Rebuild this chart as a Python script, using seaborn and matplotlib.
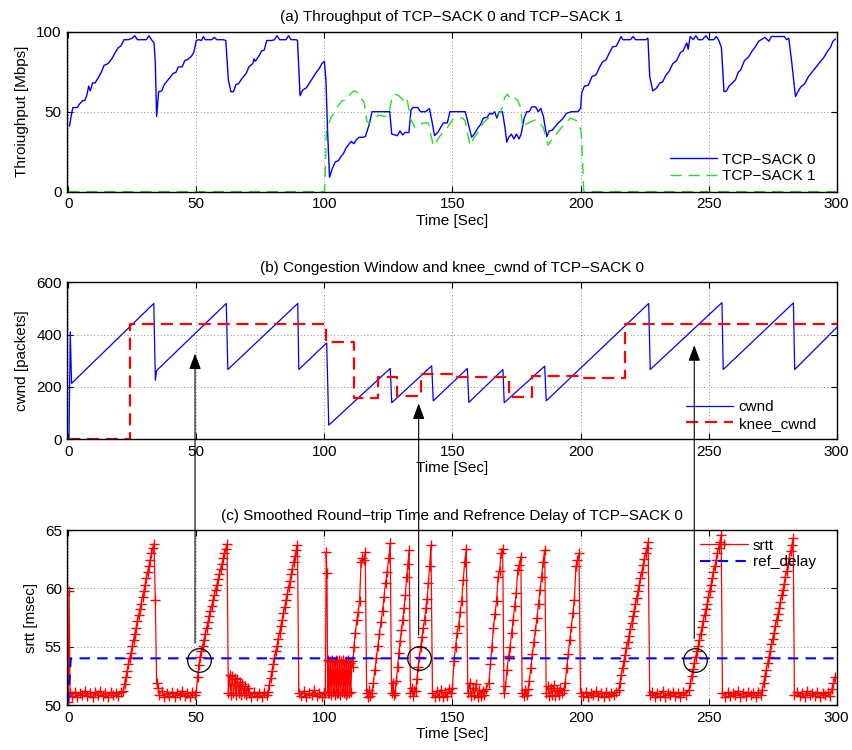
import numpy as np
import matplotlib
matplotlib.use("Agg")
import matplotlib.pyplot as plt
import seaborn as sns
from matplotlib.patches import ConnectionPatch

# ---------------- Panel (a): throughput [Mbps] ----------------
tput0_t = [0.5, 1.0, 1.8, 3.5, 4.5, 5.7, 6.5, 7.2, 8.0, 8.6, 9.5, 10.5, 12.0, 13.0, 14.0, 15.5, 17.0, 18.0,
           19.5, 20.5, 21.8, 23.5, 25.0, 26.0, 27.0, 29.5, 30.5, 31.5, 32.5, 33.5, 34.0, 34.5, 35.3, 36.5,
           37.5, 39.5, 41.0, 42.0, 43.0, 44.5, 45.5, 46.5, 48.0, 49.0, 50.0, 51.0, 52.0, 52.8, 53.5, 56.0,
           57.0, 58.0, 60.5, 61.5, 62.5, 63.5, 64.5, 65.5, 66.5, 67.5, 69.5, 70.5, 72.0, 72.5, 73.0, 74.5,
           75.5, 76.5, 77.5, 79.5, 80.5, 81.5, 82.5, 84.0, 85.0, 86.0, 87.0, 89.0, 89.5, 90.5, 91.5, 93.0,
           95.0, 97.0, 98.0, 99.0, 100.0, 100.6, 101.2, 102.0, 103.0, 104.2, 105.5, 106.5, 107.5, 108.5,
           109.5, 110.5, 111.5, 112.5, 113.5, 115.0, 116.0, 117.5, 118.6, 119.5, 125.5, 126.3, 127.5, 128.5,
           129.5, 130.5, 131.5, 133.0, 133.8, 134.5, 136.5, 137.5, 139.5, 141.0, 142.0, 143.0, 144.5, 145.5,
           146.5, 148.0, 149.0, 155.0, 157.5, 158.5, 160.0, 161.0, 162.0, 163.5, 164.5, 165.5, 166.5, 167.3,
           168.3, 169.5, 170.5, 171.2, 172.0, 173.0, 174.0, 175.0, 176.0, 176.8, 178.0, 179.0, 180.0, 181.0,
           182.5, 183.5, 184.5, 185.5, 186.8, 187.8, 189.0, 191.0, 193.0, 194.5, 196.5, 199.0, 200.0, 200.5,
           201.5, 203.0, 204.5, 206.0, 207.5, 208.5, 210.0, 211.0, 212.5, 214.0, 215.8, 216.5, 219.5, 220.5,
           221.5, 225.5, 226.3, 227.0, 228.2, 229.5, 231.0, 232.0, 233.4, 234.5, 236.0, 237.5, 239.0, 240.0,
           241.5, 242.0, 242.8, 244.0, 245.0, 246.0, 247.5, 249.0, 250.0, 252.0, 253.0, 254.0, 255.0, 256.0,
           257.0, 258.0, 259.3, 260.5, 261.5, 262.5, 264.0, 265.5, 267.0, 268.0, 269.5, 271.0, 272.0, 273.5,
           274.5, 276.0, 279.5, 280.5, 281.3, 282.5, 283.9, 285.0, 286.0, 287.5, 289.0, 290.5, 292.0, 293.5,
           295.0, 296.5, 297.5, 298.5, 299.5]
tput0_v = [41, 46, 52.6, 52.6, 55, 57, 57, 60, 66, 63, 68, 68, 72, 75, 79, 80, 83, 86,
           90, 91, 95, 95, 96, 97.5, 95, 95, 95, 97.5, 95, 93, 80, 47, 62.5, 63,
           67, 71, 74, 74.5, 78, 78, 82, 82.5, 84.5, 87, 94.5, 95, 94.5, 97, 95, 95,
           96.5, 95, 95, 94.5, 70, 62.5, 62.5, 67, 67.5, 70, 74, 78, 80, 83, 81.5, 85,
           88, 88.5, 94.5, 94.5, 95, 97.5, 95, 95, 95, 97.5, 95, 95, 94.5, 60, 63.5, 65,
           70, 75, 77, 80, 81.5, 70, 40, 9, 14, 18.5, 19.5, 22, 24, 27.5,
           29.5, 31.5, 30, 32.5, 34, 34, 34.5, 42, 50, 50, 50, 36, 35.5, 35,
           38, 35.5, 37, 37, 51, 52.6, 52.6, 50, 50, 52, 44, 35, 37.5, 40.5,
           43, 43, 50, 50, 34, 36, 40, 42, 46, 46.5, 49, 48.5, 50, 46,
           50, 50, 40, 31, 34, 36, 33, 36, 33, 36, 46, 50, 50, 53,
           53, 50, 52, 47, 34.5, 38, 38.5, 42.5, 45.5, 49, 50, 50, 52, 62,
           66, 66.5, 72, 73, 78, 81, 82.5, 86, 90.5, 91, 97, 95, 95, 97,
           95, 95, 96, 72, 63, 64.5, 68, 68.5, 73, 75, 80, 82, 87, 88,
           93, 89, 97, 95, 97.5, 95, 95, 97.5, 95, 95, 97, 94.5, 90, 62.5,
           63, 66, 68, 70, 74.5, 76, 82, 84, 88, 90, 94, 95.5, 96.5, 94,
           97, 97, 97, 95, 96, 80, 59.5, 63, 65.5, 67.5, 72, 75, 78, 81,
           84, 88, 90, 94, 95.5]

tput1_t = [0.0, 100.0, 100.3, 100.8, 102.5, 104.0, 105.0, 107.0, 108.5, 110.0, 111.5, 113.0, 114.5,
           115.5, 116.6, 117.5, 119.9, 121.0, 123.5, 125.1, 126.4, 127.5, 129.0, 131.0, 132.2, 133.5,
           135.4, 137.0, 139.0, 140.6, 142.5, 144.0, 146.5, 148.0, 150.2, 152.0, 154.0, 155.0, 156.8,
           158.5, 160.0, 162.0, 164.0, 167.3, 169.0, 170.4, 171.5, 172.5, 174.0, 175.5, 176.5, 177.5,
           178.5, 181.0, 182.5, 184.0, 185.5, 187.3, 189.0, 191.0, 193.0, 196.0, 197.5, 199.0, 200.2,
           200.8, 201.2, 201.5, 300.0]
tput1_v = [0, 0, 9, 38, 46, 50, 53, 57, 57, 61, 63, 62, 58,
           56, 44, 43, 45.5, 48, 47, 48, 59, 61, 60, 57, 59, 46,
           40, 42, 43, 43, 28.6, 32, 38, 40, 45.5, 46, 46, 44, 29,
           34, 37, 43, 46, 48, 50, 59, 61, 58, 59, 57, 53, 40,
           42, 44, 45, 43, 40, 29, 33, 37, 41, 46, 45, 44, 38,
           20, 1, 0, 0]

# ---------------- Panel (b): cwnd [packets] ----------------
cwnd_t = [0.0, 0.3, 0.8, 1.3, 33.4, 34.0, 34.5, 61.7, 62.3, 89.6, 90.0, 100.9, 101.7, 125.7, 126.3,
          141.9, 142.5, 155.8, 156.4, 169.7, 170.2, 186.0, 186.6, 226.6, 227.2, 255.2, 255.7, 283.1,
          283.6, 300.0]
cwnd_v = [0, 0, 410, 213, 519, 225, 262, 519, 266, 519, 266, 368, 53, 270, 139,
          280, 146, 270, 140, 266, 139, 279, 146, 519, 266, 522, 266, 521,
          266, 427]
knee_t = [0, 24, 100.6, 111.7, 120.8, 128.3, 137.6, 150.6, 172.0, 181.2, 200.0, 217.2, 300]
knee_v = [0, 442, 372, 156, 236, 164, 247, 238, 162, 241, 233, 442, 442]

# ---------------- Panel (c): srtt [msec] ----------------
# each segment: (start time, sample step, sampled srtt values)
srtt_segments = [
    (0.0, 0.35, [50.3, 59.8, 51.0]),
    (1.5, 1.0, [50.8, 51.1, 50.7, 51.0, 50.9, 51.2, 50.8, 51.0, 50.7, 51.1, 50.9, 51.2, 50.8, 51.0,
                50.7, 51.1, 50.9, 51.0, 50.8, 51.1]),
    (21.5, 0.5, [51.2, 51.8, 52.4, 52.9, 53.5, 54.0, 54.5, 55.1, 55.6, 56.1, 56.6, 57.2, 57.7, 58.2,
                 58.7, 59.3, 59.8, 60.3, 60.9, 61.4, 61.9, 62.4, 63.0, 63.5, 63.8]),
    (34.0, 0.5, [59.0, 51.9, 51.5]),
    (35.5, 1.0, [50.9, 51.2, 50.7, 51.0, 50.8, 51.1, 50.7, 51.0, 50.9, 51.2, 50.8, 51.0, 50.7, 51.1,
                 50.9]),
    (50.0, 0.5, [51.1, 52.4, 53.4, 54.1, 54.6, 55.1, 55.6, 56.1, 56.6, 57.1, 57.6, 58.1, 58.5, 59.0,
                 59.4, 59.9, 60.3, 60.8, 61.2, 61.7, 62.1, 62.6, 63.0, 63.4, 63.8]),
    (62.5, 0.5, [51.0, 52.6, 50.9, 52.5, 51.0, 52.3, 50.9, 52.2, 51.0, 52.0, 50.9, 51.8, 51.0, 51.6,
                 50.9, 51.5]),
    (70.5, 1.0, [51.0, 50.7, 51.1, 50.8, 51.0, 50.7, 51.1, 50.9]),
    (78.0, 0.5, [51.1, 51.7, 52.3, 52.9, 53.5, 54.0, 54.6, 55.1, 55.7, 56.2, 56.8, 57.3, 57.9, 58.4,
                 59.0, 59.5, 60.1, 60.6, 61.2, 61.7, 62.3, 62.8, 63.3, 63.7]),
    (90.0, 1.0, [51.0, 50.8, 51.2, 50.7, 51.0, 50.9, 51.3, 50.8, 51.0, 50.7, 51.1]),
    (100.4, 0.3, [51.0, 63.1, 61.3, 51.0]),
    (101.6, 0.35, [53.9, 51.0, 53.8, 50.9, 53.9, 51.1, 53.7, 50.9, 53.9, 51.0, 53.8, 51.0, 53.9, 50.9,
                   53.8, 51.1, 53.9, 51.0, 53.7, 50.9, 53.8, 51.0, 53.9, 51.0, 53.6, 51.1, 53.8]),
    (111.0, 0.55, [53.3, 55.0, 56.2, 57.3, 58.0, 58.9, 62.3, 62.6, 62.4, 63.1]),
    (116.5, 0.5, [51.0, 50.7, 51.3, 50.8]),
    (118.5, 0.6, [51.0, 51.9, 53.0, 54.0, 55.1, 56.1, 57.1, 58.1, 59.3, 60.5, 61.4, 62.6, 63.9]),
    (126.2, 0.5, [51.0, 51.9, 50.9]),
    (127.6, 0.5, [51.0, 52.1, 53.3, 54.5, 55.5, 56.4, 57.3, 58.3, 59.4, 61.0, 62.1, 63.3]),
    (133.6, 0.5, [51.0, 51.5, 50.8, 51.2]),
    (135.6, 0.5, [51.2, 52.2, 53.3, 54.1, 55.0, 55.8, 56.6, 57.3, 58.3, 59.1, 60.5, 61.9, 63.7]),
    (142.2, 0.8, [51.0, 50.7, 51.2, 50.8, 51.3, 50.7, 51.1, 50.8, 51.4, 51.0]),
    (150.0, 0.6, [51.5, 53.8, 55.0, 56.2, 56.8, 58.0, 58.9, 60.7, 62.3, 63.4]),
    (156.0, 0.65, [51.0, 51.9, 50.8, 51.5, 50.9, 51.8, 50.7, 51.3, 50.8, 51.2, 50.9, 51.4]),
    (164.2, 0.6, [51.9, 53.5, 55.0, 56.6, 57.8, 58.9, 61.0, 61.5, 63.0, 63.4]),
    (170.1, 0.6, [51.0, 51.6, 53.0, 54.2, 55.0, 56.2, 57.3, 58.5, 59.6, 61.6, 62.0, 62.7]),
    (177.2, 0.6, [51.0, 50.8, 51.3, 50.9, 51.4]),
    (180.0, 0.6, [52.1, 53.2, 54.4, 55.4, 56.4, 57.5, 58.7, 59.9, 61.0, 62.3, 63.3]),
    (186.6, 0.6, [51.0, 51.6, 50.8, 51.5, 50.9, 51.7, 50.8, 51.3, 50.9, 51.5, 51.0]),
    (193.4, 0.6, [51.3, 51.9, 53.2, 54.4, 55.6, 56.7, 57.9, 59.0, 61.9, 62.4, 63.0]),
    (200.0, 1.0, [51.0, 50.8, 51.1, 50.7, 51.0, 50.9, 51.2, 50.8, 51.0, 50.7, 51.1, 50.8, 51.0, 50.9,
                  51.1]),
    (214.9, 0.5, [51.3, 51.9, 52.6, 53.2, 53.8, 54.3, 54.9, 55.4, 55.9, 56.5, 57.0, 57.6, 58.1, 58.7,
                  59.2, 59.8, 60.3, 60.9, 61.4, 62.0, 62.5, 63.0, 63.5, 64.0]),
    (227.0, 1.0, [50.9, 51.1, 50.7, 51.0, 50.8, 51.2, 50.7, 51.0, 50.9, 51.1, 50.8, 51.0, 50.7, 51.1,
                  50.9]),
    (242.4, 0.5, [51.3, 51.9, 52.5, 53.1, 53.6, 54.1, 54.6, 55.1, 55.6, 56.1, 56.7, 57.2, 57.7, 58.2,
                  58.7, 59.3, 59.8, 60.3, 60.9, 61.4, 61.9, 62.4, 63.0, 63.5, 64.0, 64.6]),
    (255.4, 1.0, [51.0, 50.7, 51.1, 50.8, 51.0, 50.9, 51.2, 50.7, 51.0, 50.8, 51.1, 50.9, 51.0, 50.7,
                  51.1, 50.9]),
    (271.0, 0.5, [51.3, 51.9, 52.5, 53.0, 53.6, 54.1, 54.6, 55.2, 55.7, 56.2, 56.8, 57.3, 57.8, 58.3,
                  58.8, 59.4, 59.9, 60.4, 61.0, 61.5, 62.1, 62.6, 63.2, 63.7, 64.3]),
    (283.5, 1.0, [50.9, 51.1, 50.8, 51.0, 50.7, 51.2, 50.9, 51.0, 50.8, 51.1, 50.7, 51.0, 50.9, 51.1,
                  50.8]),
    (298.1, 0.65, [51.4, 51.9, 52.4]),
]
ref_t = [0.0, 1.0, 300.0]
ref_v = [50.2, 54.0, 54.0]

# circled crossing points (time, srtt) and arrows: (time, srtt start, cwnd end)
circ_t = [51.2, 136.8, 244.7]
circ_v = [53.86, 54.05, 53.86]
arrow_t = [49.5, 136.8, 244.4]
arrow_srtt = [55.3, 56.0, 55.7]
arrow_cwnd = [327, 136, 359]

srtt_t = np.concatenate([t0 + dt * np.arange(len(v)) for t0, dt, v in srtt_segments])
srtt_v = np.concatenate([np.asarray(v, float) for _, _, v in srtt_segments])

# ---------------- styling ----------------
sns.set_style("ticks", rc={"axes.edgecolor": "k", "text.color": "k", "axes.labelcolor": "k",
                           "xtick.color": "k", "ytick.color": "k"})
plt.rcParams["font.family"] = ["Liberation Sans", "DejaVu Sans"]
plt.rcParams["font.size"] = 11

fig = plt.figure(figsize=(8.53, 7.5), dpi=100)
L, W = 66.7 / 853, 770 / 853
ax_a = fig.add_axes([L, 1 - 191.7 / 750, W, 160 / 750])
ax_b = fig.add_axes([L, 1 - 439 / 750, W, 156.7 / 750])
ax_c = fig.add_axes([L, 1 - 705 / 750, W, 175 / 750])

BLUE = "#0000ff"
GREEN = "#22e022"
RED = "#ff0000"

# (a)
sns.lineplot(x=tput0_t, y=tput0_v, ax=ax_a, color=BLUE, lw=1.0, sort=False, estimator=None,
             label="TCP\u2212SACK 0")
sns.lineplot(x=tput1_t, y=tput1_v, ax=ax_a, color=GREEN, lw=1.0, sort=False, estimator=None,
             linestyle=(0, (8, 5)), label="TCP\u2212SACK 1")
# (b)
sns.lineplot(x=cwnd_t, y=cwnd_v, ax=ax_b, color=BLUE, lw=0.9, sort=False, estimator=None,
             label="cwnd")
sns.lineplot(x=knee_t, y=knee_v, ax=ax_b, color=RED, lw=1.6, sort=False, estimator=None,
             drawstyle="steps-post", linestyle=(0, (5.5, 3)), label="knee_cwnd")
# (c)
sns.lineplot(x=srtt_t, y=srtt_v, ax=ax_c, color=RED, lw=0.9, sort=False, estimator=None,
             marker="+", markersize=7, markeredgewidth=1.0, markeredgecolor=RED, label="srtt")
sns.lineplot(x=ref_t, y=ref_v, ax=ax_c, color=BLUE, lw=1.5, sort=False, estimator=None,
             linestyle=(0, (5, 3.5)), label="ref_delay")
ax_c.plot(circ_t, circ_v, "o", ms=17, mfc="none", mec="k", mew=0.9, zorder=6)

panels = [
    (ax_a, "(a) Throughput of TCP\u2212SACK 0 and TCP\u2212SACK 1", "Throiughput [Mbps]",
     (0, 100), [0, 50, 100], "lower right", (0.973, 0.054)),
    (ax_b, "(b) Congestion Window and knee_cwnd of TCP\u2212SACK 0", "cwnd [packets]",
     (0, 600), [0, 200, 400, 600], "lower right", (0.973, 0.053)),
    (ax_c, "(c) Smoothed Round\u2212trip Time and Refrence Delay of TCP\u2212SACK 0", "srtt [msec]",
     (50, 65), [50, 55, 60, 65], "upper right", (0.973, 0.95)),
]
for ax, title, ylab, ylim, yt, loc, anchor in panels:
    ax.set_xlim(-0.6, 300)
    ax.set_ylim(*ylim)
    ax.set_xticks([0, 50, 100, 150, 200, 250, 300])
    ax.set_yticks(yt)
    ax.set_title(title, fontsize=11, pad=7.5)
    ax.set_xlabel("Time [Sec]", fontsize=11, labelpad=1.8)
    ax.set_ylabel(ylab, fontsize=11, labelpad=5)
    ax.grid(True, linestyle=(0, (1, 3)), color="k", lw=0.6, alpha=0.6)
    ax.tick_params(axis="both", which="major", direction="in", top=True, right=True,
                   bottom=True, left=True, length=4, width=0.8, labelsize=11)
    ax.tick_params(axis="x", pad=4)
    ax.tick_params(axis="y", pad=3.5)
    for s in ax.spines.values():
        s.set_visible(True)
        s.set_color("k")
        s.set_linewidth(1.0)
    h, lab = ax.get_legend_handles_labels()
    ax.legend(h, lab, loc=loc, bbox_to_anchor=anchor, frameon=False, fontsize=11,
              handlelength=3.1, handletextpad=0.35, labelspacing=0.15, borderpad=0,
              borderaxespad=0, numpoints=1)

for t, s0, c1 in zip(arrow_t, arrow_srtt, arrow_cwnd):
    con = ConnectionPatch(xyA=(t, s0), coordsA=ax_c.transData, xyB=(t, c1), coordsB=ax_b.transData,
                          arrowstyle="-|>,head_length=0.8,head_width=0.3", mutation_scale=12,
                          color="k", lw=0.8, zorder=10)
    fig.add_artist(con)

fig.savefig("out.png", dpi=100)
